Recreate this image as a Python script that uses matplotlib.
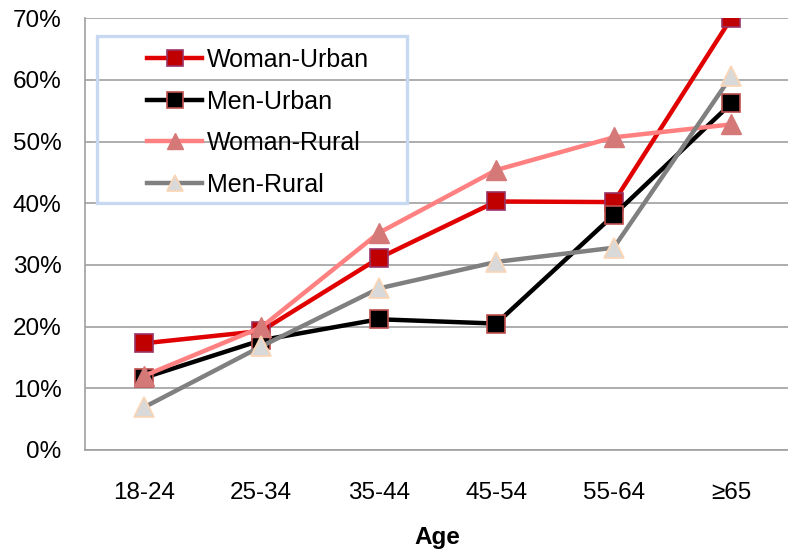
import matplotlib
matplotlib.use('Agg')
import matplotlib.pyplot as plt
from matplotlib.patches import Rectangle
from matplotlib.ticker import PercentFormatter

plt.rcParams['font.family'] = ['Liberation Sans', 'DejaVu Sans']

ages = ['18-24', '25-34', '35-44', '45-54', '55-64', '≥65']
woman_urban = [17.3, 19.3, 31.1, 40.3, 40.2, 70.0]
men_urban = [11.7, 17.8, 21.2, 20.5, 38.1, 56.2]
woman_rural = [12.0, 19.9, 35.2, 45.4, 50.7, 52.8]
men_rural = [6.9, 16.8, 26.2, 30.5, 32.8, 60.6]

fig = plt.figure(figsize=(7.88, 5.5), dpi=100)
# plot area runs a bit past the right edge, as in the original crop
ax = fig.add_axes([85 / 788, 1 - 450 / 550, 705 / 788, 432 / 550])

x = list(range(len(ages)))
ax.plot(x, woman_urban, color='#e00000', lw=3.2, marker='s', ms=13,
        mfc='#c00000', mec='#993366', mew=1.2, label='Woman-Urban')
ax.plot(x, men_urban, color='black', lw=3.2, marker='s', ms=13,
        mfc='black', mec='#c0504d', mew=1.2, label='Men-Urban')
ax.plot(x, woman_rural, color='#ff8080', lw=3.2, marker='^', ms=14,
        mfc='#d57878', mec='#d57878', mew=1, label='Woman-Rural')
ax.plot(x, men_rural, color='#808080', lw=3.2, marker='^', ms=14,
        mfc='#d9d9d9', mec='#fcd5b4', mew=1.2, label='Men-Rural')

ax.set_xlim(-0.5, len(ages) - 0.5)
ax.set_ylim(0, 70.05)
ax.set_yticks(range(0, 71, 10))
ax.yaxis.set_major_formatter(PercentFormatter(decimals=0))
ax.set_xticks(x)
ax.set_xticklabels(ages)
ax.tick_params(axis='both', length=0, labelsize=17.5)
ax.tick_params(axis='x', pad=23)
ax.tick_params(axis='y', pad=17)
ax.grid(axis='y', color='#a0a0a0', lw=1.2)
ax.set_axisbelow(True)

for s in ['top', 'right']:
    ax.spines[s].set_visible(False)
for s in ['left', 'bottom']:
    ax.spines[s].set_color('#a0a0a0')
    ax.spines[s].set_linewidth(1.2)

ax.set_xlabel('Age', fontsize=17.5, fontweight='bold', labelpad=16)

# legend frame (light blue box) and legend entries
ax.add_patch(Rectangle((0.017, 0.572), 0.44, 0.386, transform=ax.transAxes,
                       fill=False, edgecolor='#c6d9f1', lw=2.4, zorder=5))
ax.legend(loc='upper left', bbox_to_anchor=(0.088, 0.93), frameon=False,
          fontsize=18, borderpad=0, borderaxespad=0, handlelength=2.2,
          handletextpad=0.2, labelspacing=0.7, markerscale=0.85)

fig.savefig('out.png', dpi=100)
